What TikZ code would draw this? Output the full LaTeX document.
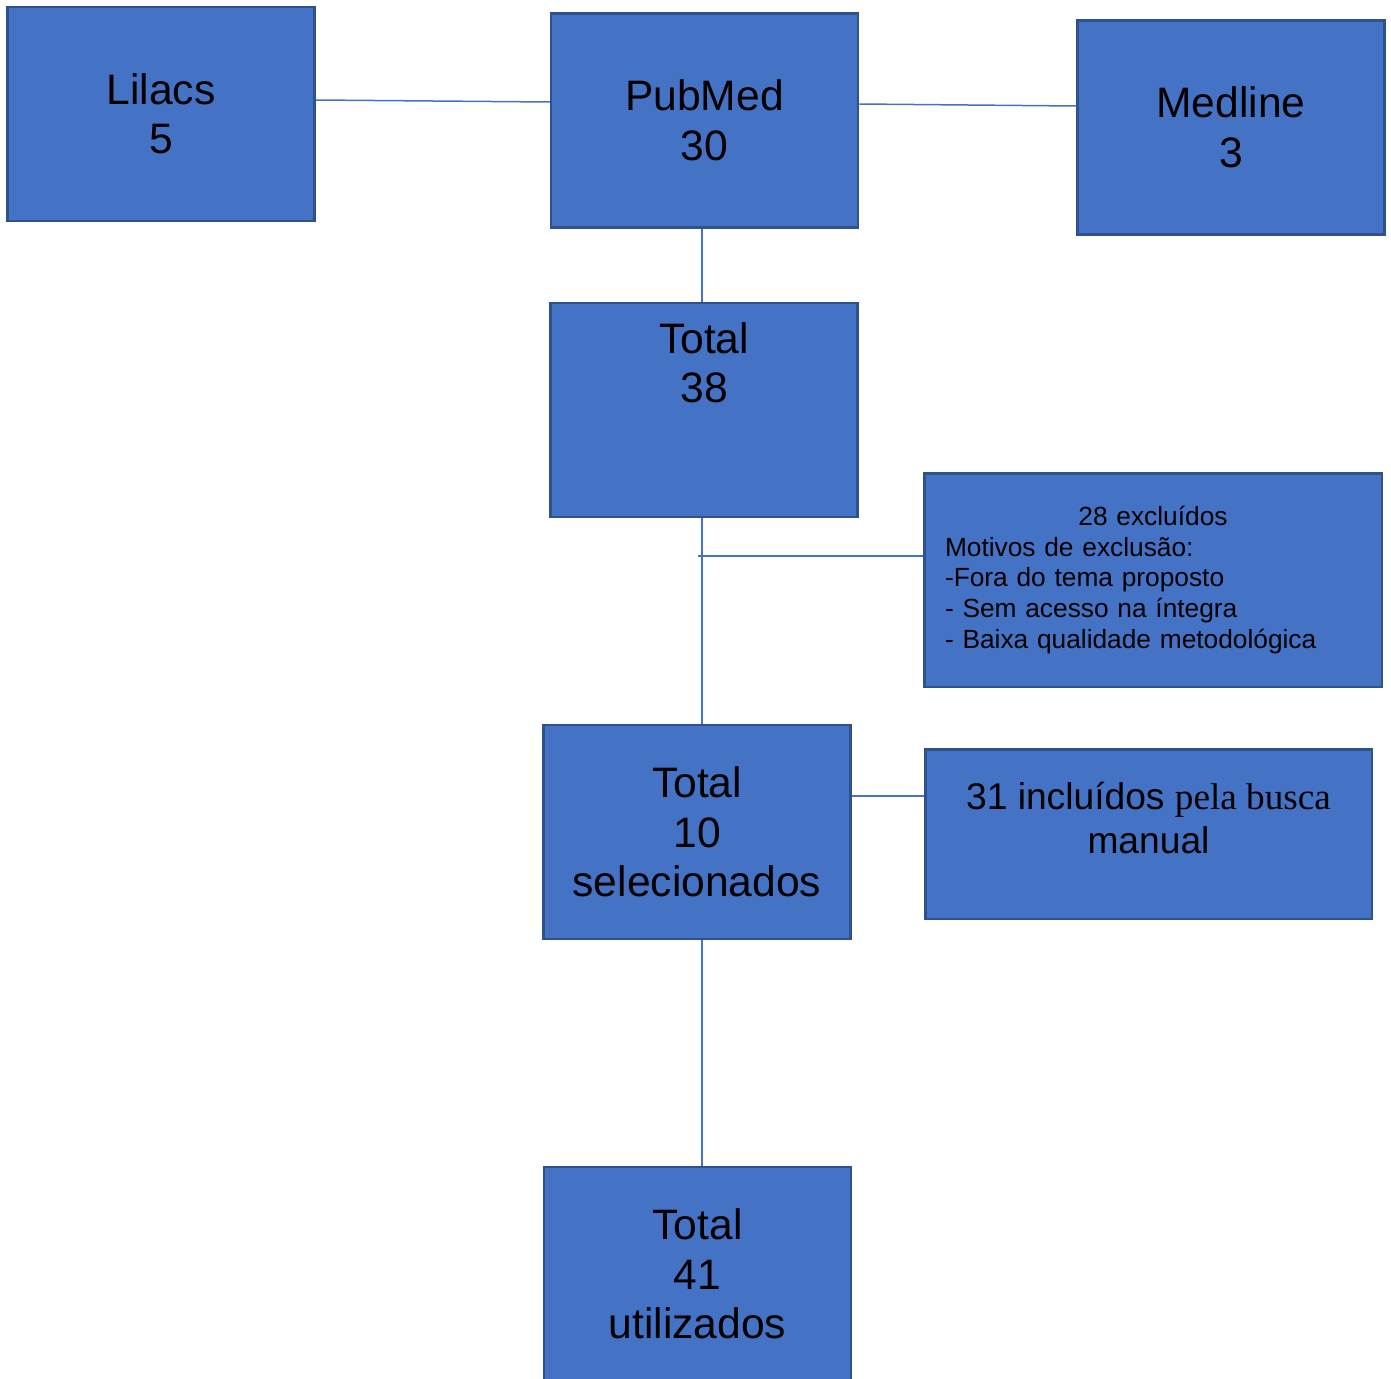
\documentclass[tikz,border=0pt]{standalone}
\usepackage{fontspec}
\setmainfont{Liberation Sans}
\newfontfamily\serifbusca{Liberation Serif}
\usetikzlibrary{positioning}
\definecolor{boxblue}{HTML}{4472C4}
\definecolor{boxedge}{HTML}{2F528F}

\begin{document}
\begin{tikzpicture}[x=1pt, y=-1pt,
                dbbox/.style={draw=boxedge, line width=2.5pt, fill=boxblue, rectangle, minimum width=307pt, minimum height=214pt, inner sep=0pt, align=center, font=\fontsize{42.6}{49.5}\selectfont},
                notebox/.style={draw=boxedge, line width=2.5pt, fill=boxblue, rectangle, minimum width=457.5pt, minimum height=213.5pt, inner sep=0pt, text width=416pt, align=left, font=\fontsize{26.3}{30.9}\selectfont},
                addbox/.style={draw=boxedge, line width=2.5pt, fill=boxblue, rectangle, minimum width=446.5pt, minimum height=169.5pt, inner sep=0pt, align=center, font=\fontsize{37.2}{43.5}\selectfont},
                link/.style={draw=boxblue, line width=1.5pt}
            ]
            \useasboundingbox (0,0) rectangle (1391,1378);

            % Caixas
            \node[dbbox] (lilacs) at (161,114) {Lilacs\\5};
            \node[dbbox] (pubmed) at (704.5,120.5) {PubMed\\30};
            \node[dbbox] (medline) at (1231,127.5) {Medline\\3};
            \node[dbbox] (total38) at (704,410) {Total\\38\\[45pt]\mbox{}};
            \node[notebox] (excl) at (1153,580) {\makebox[\linewidth]{28 excluídos}\\Motivos de exclusão:\\-Fora do tema proposto\\- Sem acesso na íntegra\\- Baixa qualidade metodológica};
            \node[dbbox] (total10) at (697,832) {Total\\10\\selecionados};
            \node[addbox] (incl) at (1148.5,834) {31 incluídos {\serifbusca pela busca}\\manual\\[-11.5pt]\mbox{}};
            \node[dbbox] (total41) at (697.5,1274) {Total\\41\\utilizados};

            % Ligações
            \draw[link] ([yshift=14pt]lilacs.east) -- ([yshift=18.5pt]pubmed.west);
            \draw[link] ([yshift=16.5pt]pubmed.east) -- ([yshift=21.5pt]medline.west);
            \draw[link] ([xshift=-2.5pt]pubmed.south) -- ([xshift=-2pt]total38.north);
            \draw[link] ([xshift=-2pt]total38.south) -- ([xshift=5pt]total10.north);
            \coordinate (split) at ([xshift=-6pt,yshift=24pt]excl.west -| total38.south);
            \draw[link] (split) -- ([yshift=24pt]excl.west);
            \draw[link] ([yshift=36pt]total10.east) -- ([yshift=38pt]incl.west);
            \draw[link] ([xshift=5pt]total10.south) -- ([xshift=4.5pt]total41.north);

        \end{tikzpicture}
\end{document}
